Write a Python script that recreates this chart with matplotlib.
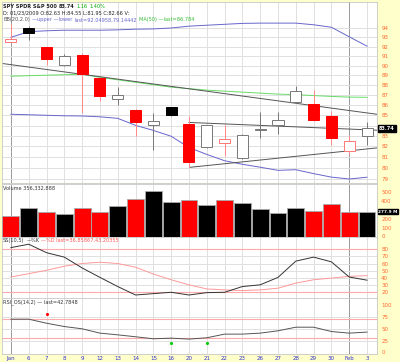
import matplotlib
matplotlib.use('Agg')
import matplotlib.pyplot as plt
import numpy as np

W, H = 400, 362

day_labels = ["Jan", "6", "7", "8", "9", "12", "13", "14", "15", "16", "20", "21",
              "22", "23", "26", "27", "28", "29", "30", "Feb", "3"]
prev_close = 93.0
opens  = [92.50, 94.00, 91.92, 90.11, 91.10, 88.75, 86.65, 85.56, 84.09, 85.79, 84.15,
          81.92, 82.36, 80.90, 83.55, 84.09, 86.32, 86.09, 84.90, 81.53, 82.99]
highs  = [94.40, 94.20, 92.00, 91.20, 91.30, 88.80, 87.83, 85.60, 85.23, 85.85, 84.90,
          84.10, 84.02, 83.20, 85.33, 85.33, 87.90, 87.50, 85.43, 83.12, 84.35]
lows   = [92.45, 92.70, 90.05, 89.96, 85.20, 86.42, 86.00, 82.96, 81.70, 84.95, 80.04,
          81.85, 81.10, 80.85, 82.83, 83.22, 86.25, 84.40, 82.14, 81.25, 82.14]
closes = [92.80, 93.45, 90.65, 91.00, 89.10, 86.92, 87.06, 84.32, 84.41, 85.03, 80.50,
          84.02, 82.74, 83.12, 83.62, 84.50, 87.39, 84.51, 82.79, 82.56, 83.74]
volume_m = [233, 315, 270, 252, 318, 270, 344, 418, 511, 381, 407,
            352, 411, 370, 307, 259, 315, 285, 367, 278, 277.9]
bb_upper = [93.00, 93.60, 93.70, 93.76, 93.76, 93.76, 93.80, 93.87, 93.90, 94.00, 94.20,
            94.30, 94.40, 94.50, 94.53, 94.53, 94.53, 94.35, 94.08, 93.05, 92.05]
bb_lower = [85.10, 85.05, 85.00, 84.95, 84.93, 84.85, 84.70, 84.02, 83.53, 82.97, 81.90,
            81.25, 80.66, 80.33, 80.06, 79.77, 79.83, 79.47, 79.15, 78.98, 79.14]
ma50 = [88.92, 88.97, 89.02, 89.07, 89.13, 88.80, 88.55, 88.30, 88.05, 87.80, 87.65,
        87.50, 87.40, 87.30, 87.20, 87.10, 87.05, 86.95, 86.87, 86.80, 86.78]
stoch_k = [82.4, 87.1, 75.3, 69.1, 54.0, 40.8, 28.0, 16.2, 18.1, 20.0, 16.2,
           19.5, 20.0, 28.0, 30.4, 40.8, 63.5, 69.1, 62.5, 41.3, 36.9]
stoch_d = [41.3, 46.0, 50.7, 56.4, 60.2, 62.0, 60.2, 55.0, 45.5, 37.5, 30.4,
           24.7, 23.3, 22.4, 23.3, 25.7, 32.8, 37.5, 39.8, 42.2, 43.2]
rsi = [70.0, 70.0, 61.5, 54.5, 49.7, 40.6, 37.0, 32.9, 28.7, 30.0, 28.0,
       30.8, 38.5, 38.5, 40.6, 45.5, 53.1, 53.1, 44.0, 40.6, 42.8]
rsi_sig_up_idx, rsi_sig_up_val = [2], [80.4]
rsi_sig_dn_idx, rsi_sig_dn_val = [9, 11], [18.9, 18.9]
# user-drawn trend lines: (start index, start price, end index, end price)
trend1 = [-0.52, 90.24, 20.55, 85.10]
trend2 = [10.0, 84.30, 20.55, 83.55]
trend3 = [10.06, 80.05, 20.55, 81.86]

price_ticks = [79, 80, 81, 82, 83, 85, 86, 87, 88, 89, 90, 91, 92, 93, 94]
vol_ticks = [0, 100, 200, 400, 500]
stoch_ticks = [20, 30, 40, 50, 60, 70, 80]
rsi_ticks = [0, 25, 50, 75, 100]

BG = '#ffffcc'
ORANGE = '#ff6633'
BLUE_TXT = '#3333cc'
GRID = '#e0e0e0'
MONTH = '#999999'
FS = 4.0
HFS = 3.6

fig = plt.figure(figsize=(W / 100, H / 100), dpi=100)
fig.patch.set_facecolor(BG)
renderer = fig.canvas.get_renderer()

def axes_px(x0, y0, x1, y1):
    return fig.add_axes([x0 / W, 1 - y1 / H, (x1 - x0) / W, (y1 - y0) / H])

def seg_text(px, py, parts, fs=HFS):
    """Draw coloured text segments one after another, starting at pixel (px, py from top)."""
    xcur = px
    for s, col, bold in parts:
        t = fig.text(xcur / W, 1 - py / H, s, fontsize=fs, color=col, va='top', ha='left',
                     fontweight='bold' if bold else 'normal')
        bb = t.get_window_extent(renderer=renderer)
        xcur = bb.x1 + 2

n = len(closes)
x = np.arange(n)
xlim = (-0.5, 20.56)
month_idx = [0, 19]

ax_p = axes_px(2, 2, 377, 183.5)
ax_v = axes_px(2, 183.5, 377, 236.5)
ax_s = axes_px(2, 236.5, 377, 297.5)
ax_r = axes_px(2, 297.5, 377, 354)

for ax in (ax_p, ax_v, ax_s, ax_r):
    ax.set_facecolor('white')
    ax.set_xlim(*xlim)
    for sp in ax.spines.values():
        sp.set_color('#c8c8c8')
        sp.set_linewidth(0.6)
    ax.set_xticks([])
    ax.yaxis.tick_right()
    ax.tick_params(axis='y', length=0, pad=3, labelsize=FS, labelcolor=ORANGE)
    for i in x:
        ax.axvline(i, color=MONTH if i in month_idx else GRID,
                   lw=0.7, zorder=0)

# ---------------- price panel ----------------
ax_p.set_yscale('log')
ax_p.set_ylim(78.57, 96.86)
ax_p.yaxis.set_major_locator(matplotlib.ticker.FixedLocator(price_ticks))
ax_p.yaxis.set_minor_locator(matplotlib.ticker.NullLocator())
ax_p.yaxis.set_major_formatter(matplotlib.ticker.FixedFormatter([str(t) for t in price_ticks]))
for t in range(79, 95):
    ax_p.axhline(t, color=GRID, lw=0.7, zorder=0)

ax_p.plot(x, bb_upper, color='#6666cc', lw=0.7, zorder=2)
ax_p.plot(x, bb_lower, color='#6666cc', lw=0.7, zorder=2)
ax_p.plot(x, ma50, color='#66dd66', lw=0.7, zorder=2)
for tl in (trend1, trend2, trend3):
    ax_p.plot([tl[0], tl[2]], [tl[1], tl[3]], color='#555555', lw=0.7, zorder=2)

pc = [prev_close] + closes[:-1]
for i in range(n):
    o, h, l, c = opens[i], highs[i], lows[i], closes[i]
    down_day = c < pc[i]
    hollow = c >= o
    if down_day:
        fill = 'white' if hollow else '#ff0000'
        edge = '#ff7777' if hollow else '#ff0000'
        wick = '#ff8888'
    else:
        fill = 'white' if hollow else 'black'
        edge = '#777777' if hollow else 'black'
        wick = '#777777'
    ax_p.vlines(i, l, h, color=wick, lw=0.7, zorder=3)
    lo_b, hi_b = min(o, c), max(o, c)
    if hi_b - lo_b < 0.05:
        ax_p.hlines(c, i - 0.31, i + 0.31, color=edge, lw=0.8, zorder=4)
    else:
        ax_p.bar(i, hi_b - lo_b, bottom=lo_b, width=0.62, color=fill,
                 edgecolor=edge, lw=0.7, zorder=4)

ax_p.annotate(f'{closes[-1]:.2f}', xy=(1.0, closes[-1]), xycoords=('axes fraction', 'data'),
              xytext=(1.5, 0), textcoords='offset points', fontsize=HFS, color='white',
              fontweight='bold', va='center', ha='left', annotation_clip=False,
              bbox=dict(boxstyle='square,pad=0.2', fc='black', ec='black'))

# header texts
seg_text(3, 3.5, [('SPY SPDR S&P 500', '#222222', True), ('83.74', '#222222', True),
                  ('1.16', '#00aa00', False), ('1.40%', '#00aa00', False)])
seg_text(3, 10.5, [('D: 01/23/2009 O:82.63 H:84.55 L:81.95 C:82.66 V:', '#222222', False)])
seg_text(3, 17.5, [('BB(20,2.0)', '#555555', False), ('\u2014upper \u2014lower', '#6666cc', False),
                   ('last=92.04958,79.14442', '#6666cc', False),
                   ('MA(50) \u2014last=86.784', '#33bb33', False)])

# ---------------- volume panel ----------------
ax_v.set_ylim(0, 593)
ax_v.set_yticks(vol_ticks)
ax_v.set_yticklabels([str(t) for t in vol_ticks])
vcol = ['#ff0000' if closes[i] < pc[i] else 'black' for i in range(n)]
ax_v.bar(x, volume_m, width=0.95, color=vcol, edgecolor='#aaaaaa', lw=0.6, zorder=3)
seg_text(3, 185.5, [('Volume 356,332,888', '#333333', False)])
ax_v.annotate(f'{volume_m[-1]:.1f} M', xy=(1.0, volume_m[-1]),
              xycoords=('axes fraction', 'data'), xytext=(1.0, 0),
              textcoords='offset points', fontsize=3.1, color='white',
              fontweight='bold', va='center', ha='left', annotation_clip=False,
              bbox=dict(boxstyle='square,pad=0.15', fc='black', ec='black'))

# ---------------- stochastic panel ----------------
ax_s.set_ylim(12.7, 97.9)
ax_s.set_yticks(stoch_ticks)
ax_s.set_yticklabels([str(t) for t in stoch_ticks])
for t in [30, 40, 50, 60, 70]:
    ax_s.axhline(t, color=GRID, lw=0.7, zorder=0)
for t in [20, 80]:
    ax_s.axhline(t, color='#ffaaaa', lw=0.8, zorder=1)
ax_s.plot(x, stoch_d, color='#ff9999', lw=0.7, zorder=2)
ax_s.plot(x, stoch_k, color='#333333', lw=0.7, zorder=3)
seg_text(3, 238, [('SS(10,5)', '#333333', False), ('\u2014%K', '#333333', False),
                  ('\u2014%D last=36.85867,43.20355', '#ff5555', False)])

# ---------------- RSI panel ----------------
ax_r.set_ylim(-3.4, 115.7)
ax_r.set_yticks(rsi_ticks)
ax_r.set_yticklabels([str(t) for t in rsi_ticks])
for t in [25, 50, 75]:
    ax_r.axhline(t, color=GRID, lw=0.7, zorder=0)
for t in [30, 70]:
    ax_r.axhline(t, color='#ffaaaa', lw=0.8, zorder=1)
ax_r.plot(x, rsi, color='#555555', lw=0.7, zorder=3)
ax_r.scatter(rsi_sig_up_idx, rsi_sig_up_val, s=1.5, color='#ff0000', zorder=4)
ax_r.scatter(rsi_sig_dn_idx, rsi_sig_dn_val, s=1.5, color='#00cc00', zorder=4)
seg_text(3, 299, [('RSI_OS(14,2) \u2014 last=42.7848', '#333333', False)])

ax_r.set_xticks(x)
ax_r.set_xticklabels(day_labels)
ax_r.tick_params(axis='x', length=0, pad=1.5, labelsize=FS, labelcolor=BLUE_TXT)

fig.savefig('out.png', dpi=100, facecolor=BG)
